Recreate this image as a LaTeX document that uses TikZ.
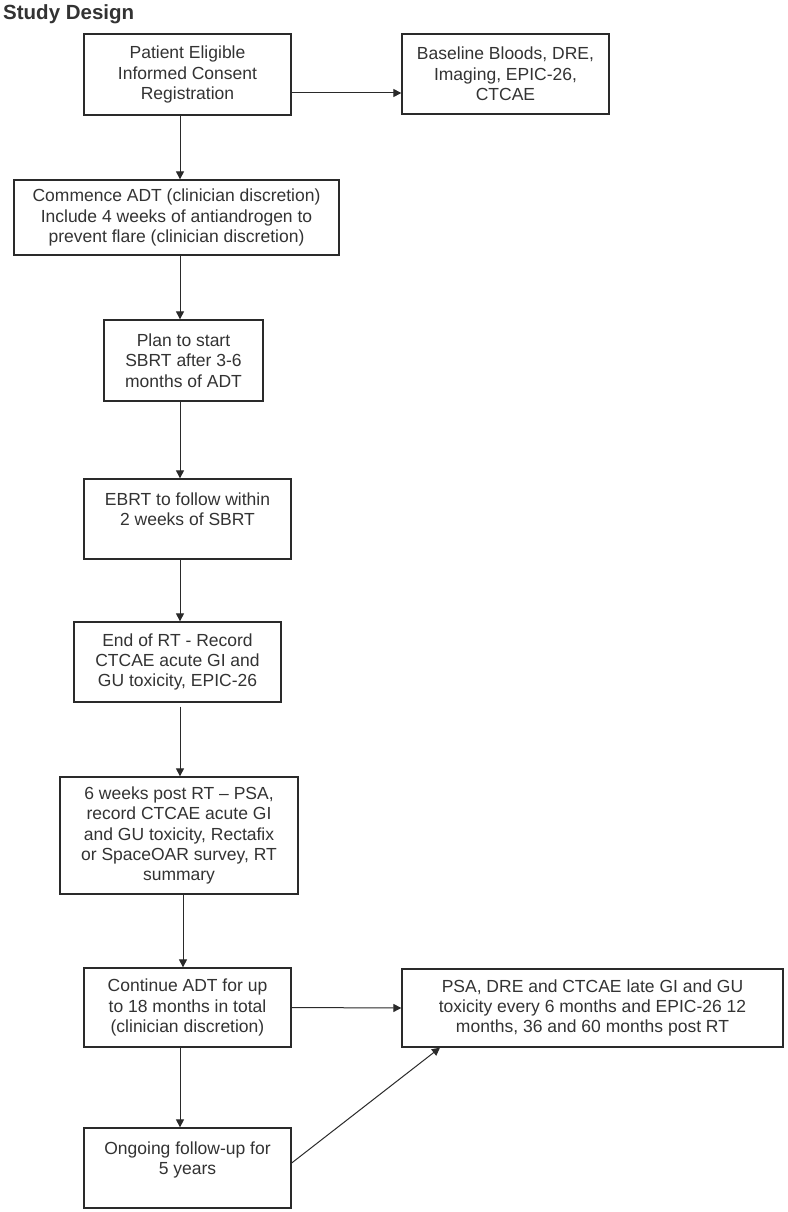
\documentclass[tikz,border=0pt]{standalone}
\usepackage{fontspec}
\setmainfont{Liberation Sans}
\usetikzlibrary{arrows.meta}
\definecolor{ink}{HTML}{333333}
\definecolor{edge}{HTML}{2A2A2A}
\tikzset{
  box/.style={draw=edge, line width=1.3pt, rectangle, inner sep=0pt, align=center,
    text=ink, font=\fontsize{17.5}{20.3}\selectfont},
  arr/.style={draw=edge, line width=1pt, -{Triangle[width=8pt,length=8pt]}},
  ttl/.style={anchor=west, inner sep=0pt, text=ink, font=\fontsize{20.5}{24}\selectfont\bfseries}
}
\begin{document}
\begin{tikzpicture}[x=1pt,y=-1pt]
\useasboundingbox[fill=white] (0,0) rectangle (787,1212);
\node[ttl] (title) at (3,14) {Study Design};

\node[box, minimum width=207pt, minimum height=81pt] (n1) at (187.5,74.5)
  {Patient Eligible\\Informed Consent\\Registration};
\node[box, minimum width=207pt, minimum height=80pt] (n2) at (505.5,74)
  {Baseline Bloods, DRE,\\Imaging, EPIC-26,\\CTCAE};
\node[box, minimum width=325pt, minimum height=75pt] (n3) at (176.5,217.5)
  {Commence ADT (clinician discretion)\\Include 4 weeks of antiandrogen to\\prevent flare (clinician discretion)};
\node[box, minimum width=159pt, minimum height=81pt] (n4) at (183.5,360.5)
  {Plan to start\\SBRT after 3-6\\months of ADT};
\node[box, minimum width=207pt, minimum height=80pt] (n5) at (187.5,519)
  {EBRT to follow within\\2 weeks of SBRT\\\mbox{}};
\node[box, minimum width=207pt, minimum height=80pt] (n6) at (177.5,662)
  {End of RT - Record\\CTCAE acute GI and\\GU toxicity, EPIC-26};
\node[box, minimum width=238pt, minimum height=117pt] (n7) at (179,835.5)
  {6 weeks post RT -- PSA,\\record CTCAE acute GI\\and GU toxicity, Rectafix\\or SpaceOAR survey, RT\\summary};
\node[box, minimum width=207pt, minimum height=79pt] (n8) at (187.5,1007.5)
  {Continue ADT for up\\to 18 months in total\\(clinician discretion)};
\node[box, minimum width=207pt, minimum height=80pt] (n9) at (187.5,1168)
  {Ongoing follow-up for\\5 years\\\mbox{}};
\node[box, minimum width=381pt, minimum height=78pt] (n10) at (592.5,1008)
  {PSA, DRE and CTCAE late GI and GU\\toxicity every 6 months and EPIC-26 12\\months, 36 and 60 months post RT};

\coordinate (ax) at (180,0);
\coordinate (bx) at (183,0);
\coordinate (r1) at (0,93);
\coordinate (d9) at (0,1163);
\coordinate (d10) at (440,0);

\draw[arr] (n1.east |- r1) -- (n2.west |- r1);
\draw[arr] (n1.south -| ax) -- (n3.north -| ax);
\draw[arr] (n3.south -| ax) -- (n4.north -| ax);
\draw[arr] (n4.south -| ax) -- (n5.north -| ax);
\draw[arr] (n5.south -| ax) -- (n6.north -| ax);
\draw[arr, shorten <=4pt] (n6.south -| ax) -- (n7.north -| ax);
\draw[arr] (n7.south -| bx) -- (n8.north -| bx);
\draw[arr] (n8.south -| ax) -- (n9.north -| ax);
\draw[arr] (n8.east) -- (n10.west);
\draw[arr] (n9.east |- d9) -- (n10.south -| d10);
\end{tikzpicture}
\end{document}
